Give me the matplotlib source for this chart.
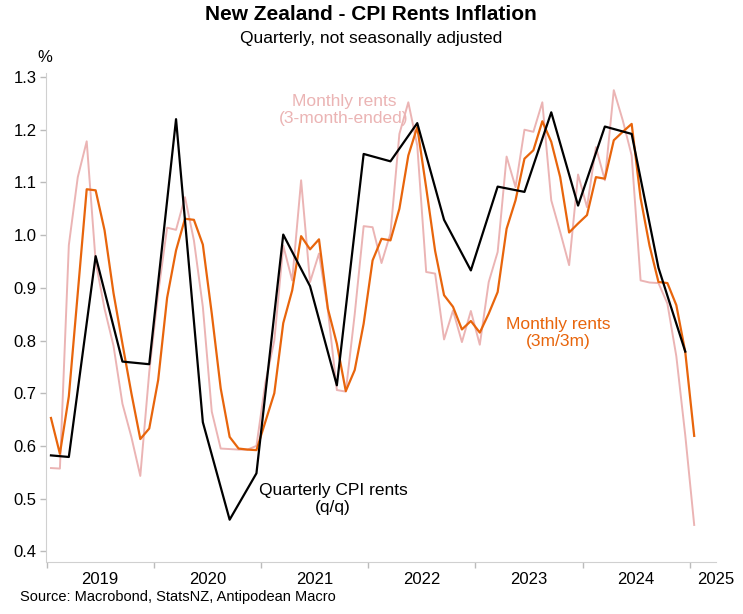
import numpy as np
import matplotlib
matplotlib.use("Agg")
from matplotlib import pyplot as plt

plt.rcParams['font.family'] = ['Liberation Sans', 'DejaVu Sans']

# Monthly rents, 3-month-ended (Jan 2019 .. Jan 2025)
pink = [0.558, 0.557, 0.981, 1.110, 1.178, 0.95, 0.86, 0.79, 0.68, 0.617, 0.543, 0.74,
        0.89, 1.014, 1.01, 1.072, 0.99, 0.864, 0.665, 0.595, 0.594, 0.593, 0.593, 0.60,
        0.72, 0.80, 0.98, 0.914, 1.104, 0.911, 0.965, 0.857, 0.706, 0.703, 0.85, 1.017,
        1.015, 0.947, 1.003, 1.192, 1.252, 1.17, 0.93, 0.927, 0.802, 0.857, 0.797, 0.856,
        0.792, 0.911, 0.968, 1.149, 1.091, 1.2, 1.196, 1.252, 1.066, 1.006, 0.943, 1.115,
        1.053, 1.167, 1.104, 1.275, 1.218, 1.151, 0.914, 0.91, 0.909, 0.87, 0.77, 0.62,
        0.45]

# Monthly rents, 3m/3m
orange = [0.653, 0.585, 0.694, 0.89, 1.087, 1.085, 1.009, 0.89, 0.794, 0.70, 0.613, 0.633,
          0.725, 0.881, 0.971, 1.031, 1.029, 0.982, 0.851, 0.709, 0.617, 0.595, 0.593, 0.592,
          0.646, 0.70, 0.833, 0.895, 0.998, 0.973, 0.992, 0.86, 0.794, 0.704, 0.744, 0.832,
          0.952, 0.993, 0.990, 1.05, 1.151, 1.205, 1.09, 0.97, 0.886, 0.864, 0.821, 0.837,
          0.815, 0.851, 0.892, 1.012, 1.066, 1.145, 1.161, 1.216, 1.177, 1.11, 1.005, 1.022,
          1.038, 1.11, 1.107, 1.18, 1.196, 1.211, 1.07, 0.98, 0.911, 0.909, 0.867, 0.778,
          0.619]

# Quarterly CPI rents q/q (first point Jan 2019, then Mar 2019 .. Dec 2024)
quarterly_month = [1] + list(range(3, 73, 3))
quarterly = [0.582, 0.579, 0.96, 0.76, 0.755, 1.22, 0.645, 0.46, 0.548,
             1.001, 0.903, 0.715, 1.154, 1.14, 1.2125, 1.029, 0.933,
             1.092, 1.082, 1.233, 1.056, 1.206, 1.192, 0.938, 0.779]

years = [2019, 2020, 2021, 2022, 2023, 2024, 2025]
yticks = [0.4, 0.5, 0.6, 0.7, 0.8, 0.9, 1.0, 1.1, 1.2, 1.3]

# months -> fractional year, plotted mid-month
xm = 2019 + (np.arange(1, len(pink) + 1) - 0.5) / 12
xq = 2019 + (np.array(quarterly_month) - 0.5) / 12

W, H = 743, 614
fig = plt.figure(figsize=(W / 100, H / 100), dpi=100)
ax = fig.add_axes([46.5 / W, 1 - 562 / H, (716 - 46.5) / W, (562 - 73) / H])

ax.plot(xm, pink, color='#ebb4b4', lw=1.4)
ax.plot(xm, orange, color='#e8650c', lw=1.6)
ax.plot(xq, quarterly, color='black', lw=1.6)

ax.set_xlim(2019, 2025.245)
ax.set_ylim(0.3797, 1.3076)

ax.set_yticks(yticks)
ax.set_yticklabels([f"{v:.1f}" for v in yticks], fontsize=12)
ax.set_xticks(years[:-1] + [2025])
ax.set_xticklabels([])
ax.tick_params(axis='both', color='#bbbbbb', length=4, width=1)
ax.tick_params(axis='y', pad=3)
for yr in years[:-1]:
    ax.text(yr + 0.5, -0.02, str(yr), transform=ax.get_xaxis_transform(),
            ha='center', va='top', fontsize=12)
ax.text(2025.245, -0.02, '2025', transform=ax.get_xaxis_transform(),
        ha='center', va='top', fontsize=12)

for s in ['top', 'right']:
    ax.spines[s].set_visible(False)
for s in ['left', 'bottom']:
    ax.spines[s].set_color('#d0d0d0')

fig.text(371 / W, 1 - 15 / H, 'New Zealand - CPI Rents Inflation', ha='center', va='center',
         fontsize=15, fontweight='bold')
fig.text(371 / W, 1 - 38 / H, 'Quarterly, not seasonally adjusted', ha='center', va='center',
         fontsize=12.5)
fig.text(45 / W, 1 - 57 / H, '%', ha='center', va='center', fontsize=12)

fig.text(344 / W, 1 - 110 / H, 'Monthly rents\n(3-month-ended)', ha='center', va='center',
         fontsize=12.5, color='#ebb4b4', linespacing=1.2)
fig.text(558 / W, 1 - 333 / H, 'Monthly rents\n(3m/3m)', ha='center', va='center',
         fontsize=12.5, color='#e8650c', linespacing=1.2)
fig.text(333 / W, 1 - 499 / H, 'Quarterly CPI rents\n(q/q)', ha='center', va='center',
         fontsize=12.5, color='black', linespacing=1.2)

fig.text(20 / W, 1 - 597 / H, 'Source: Macrobond, StatsNZ, Antipodean Macro', ha='left',
         va='center', fontsize=10.5)

fig.savefig('out.png', dpi=100)
